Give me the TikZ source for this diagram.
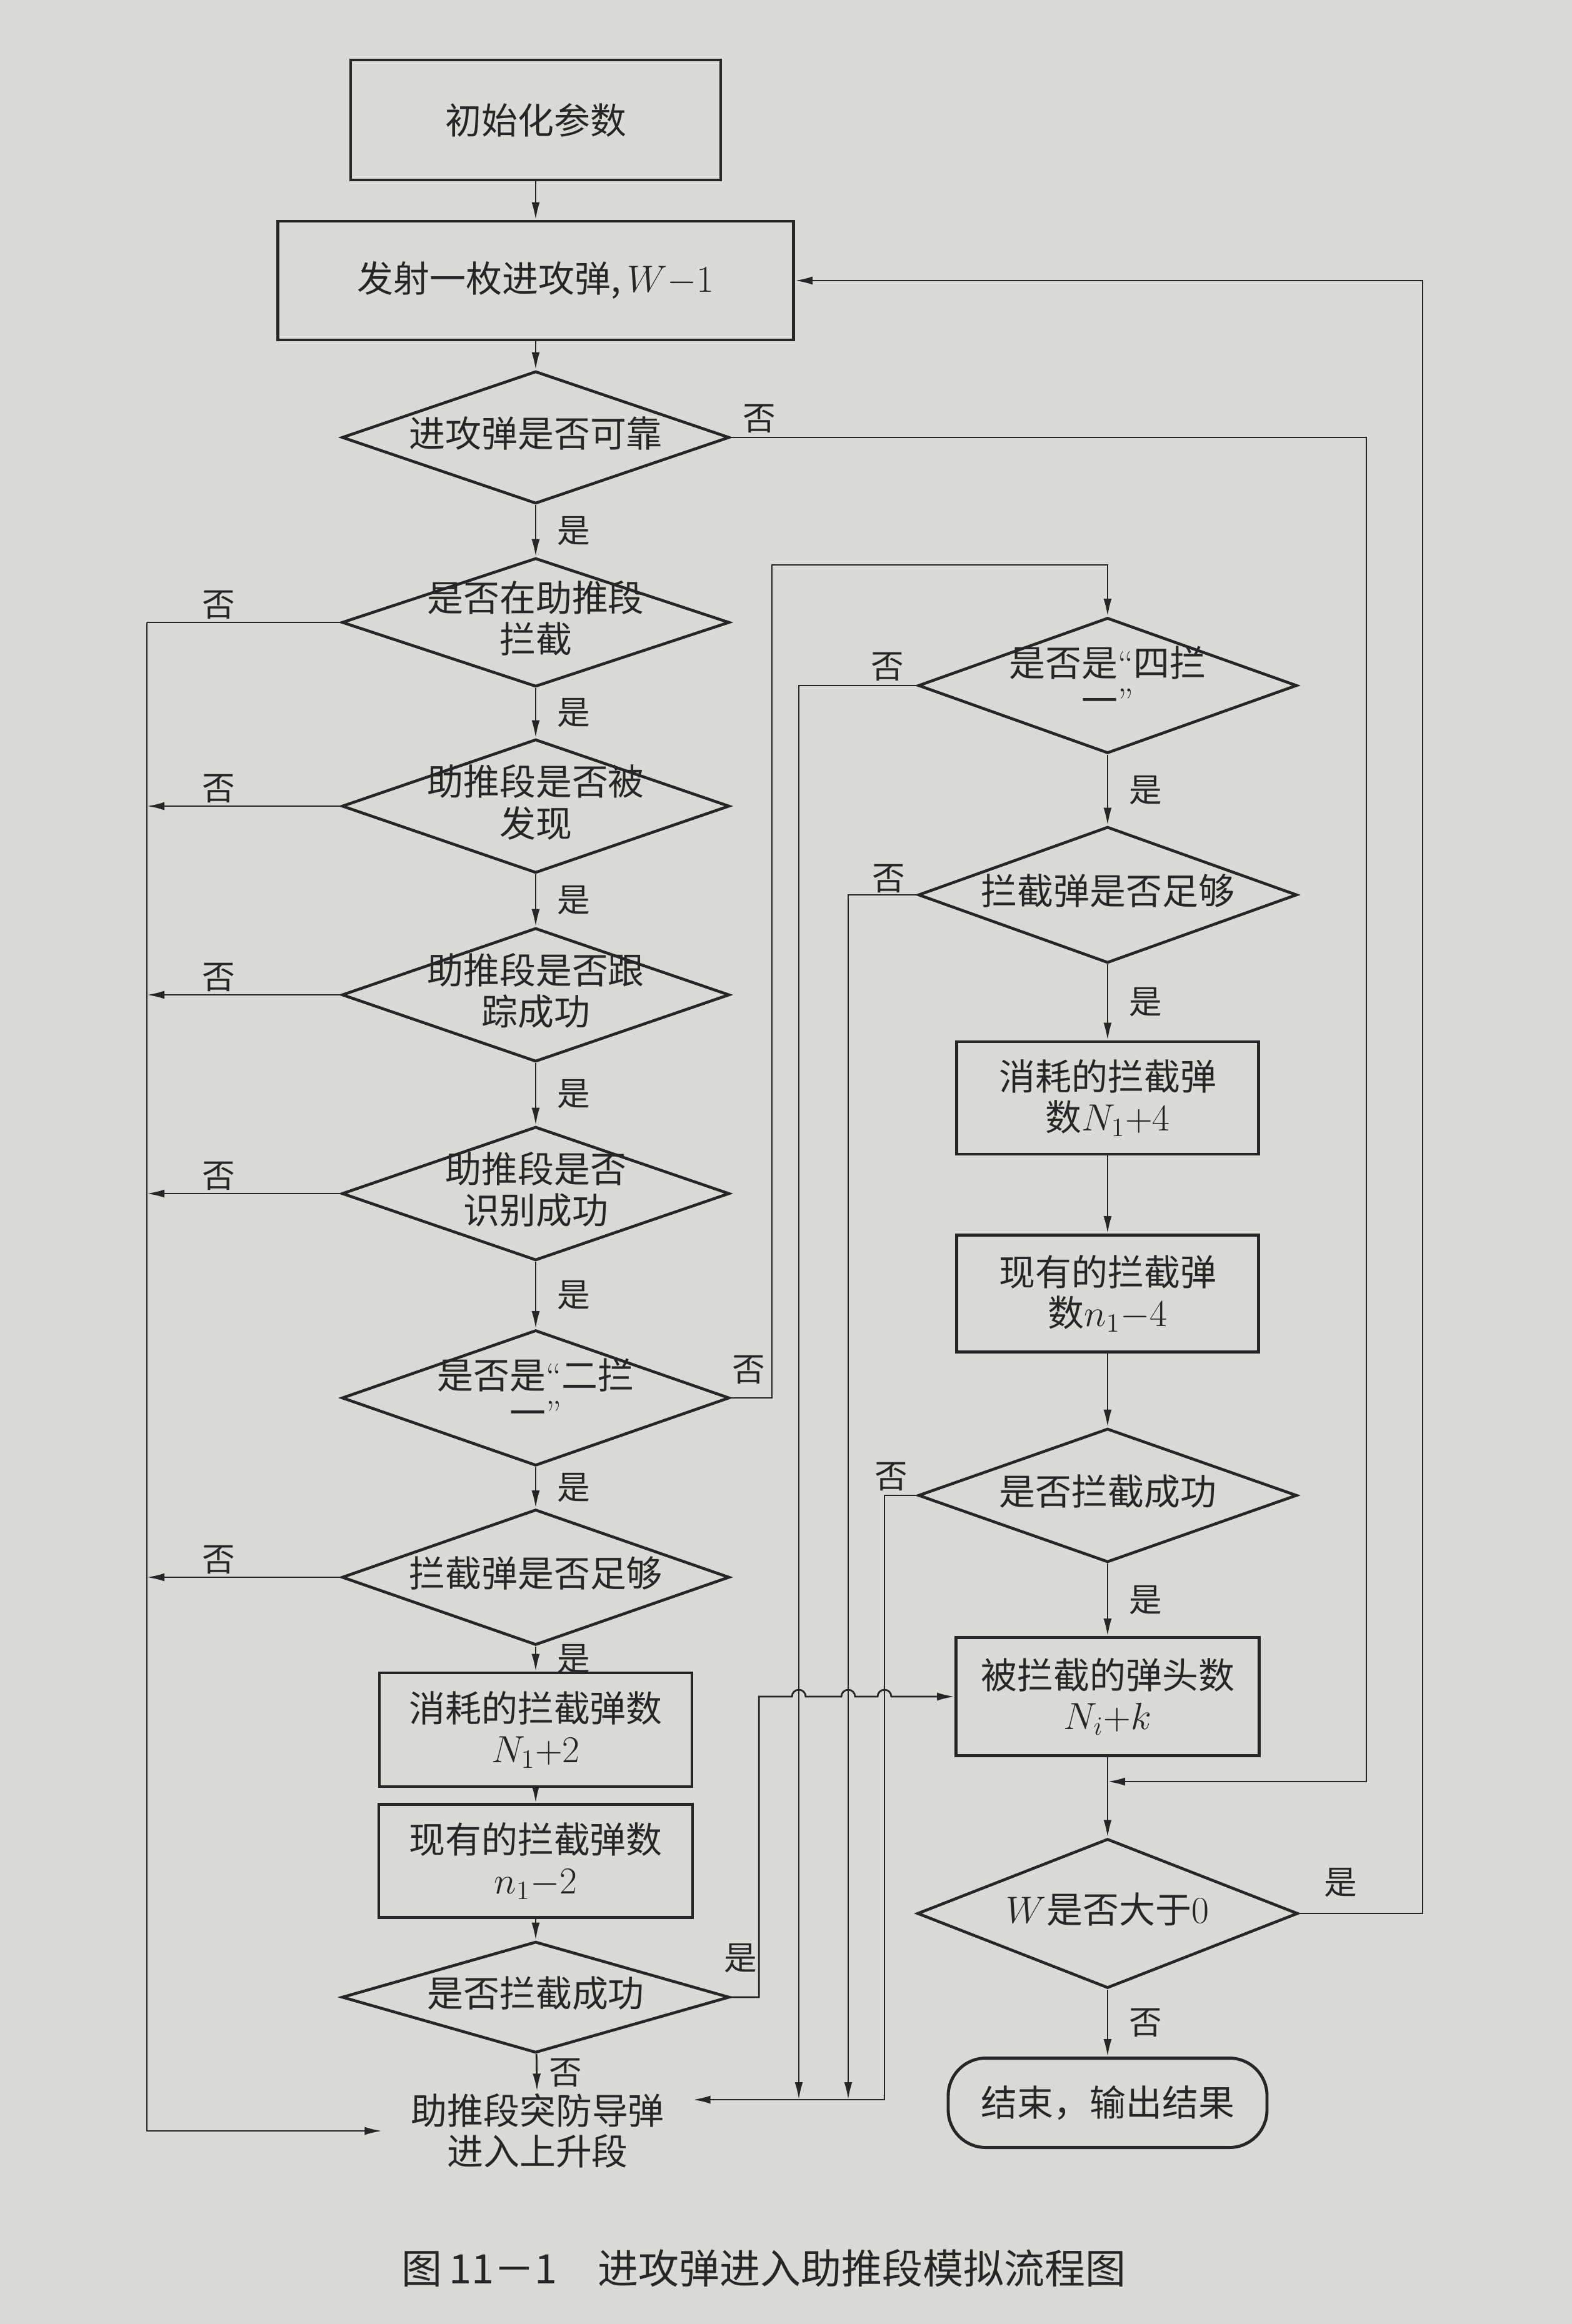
\documentclass[tikz,border=0pt]{standalone}
\usepackage{fontspec}
\newfontfamily\cjk{Noto Sans CJK SC}
\usepackage{xcolor}
\usepackage{tikz}
\usetikzlibrary{calc}
\usetikzlibrary{shapes.geometric}
\usetikzlibrary{arrows.meta}

\definecolor{paper}{RGB}{218,218,215}
\definecolor{ink}{RGB}{38,38,38}
\newcommand{\flowfont}{\cjk\fontsize{16.5}{17}\selectfont}
\newcommand{\boxfont}{\cjk\fontsize{16.5}{18.5}\selectfont}
\newcommand{\labfont}{\cjk\fontsize{15}{15}\selectfont}
\newcommand{\dtext}[1]{\makebox[0pt]{\begin{tabular}{@{}c@{}}#1\end{tabular}}}
\newcommand{\openq}{{\rmfamily “}}
\newcommand{\closeq}{{\rmfamily ”}}

\tikzset{
  procbox/.style={draw=ink, line width=1.3pt, rectangle, align=center, font=\boxfont, text=ink, inner sep=2pt},
  decide/.style={draw=ink, line width=1.3pt, diamond, inner sep=0pt, font=\flowfont, text=ink, minimum width=6.2cm, minimum height=2.14cm},
  stopbox/.style={draw=ink, line width=1.4pt, rounded corners=0.6cm, font=\flowfont, text=ink, minimum width=5.1cm, minimum height=1.43cm},
  flow/.style={draw=ink, line width=0.8pt, -{Latex[length=2.8mm,width=1.3mm]}},
  wire/.style={draw=ink, line width=0.8pt},
  lab/.style={font=\labfont, text=ink, inner sep=1pt},
  ylab/.style={lab, right, xshift=3mm}
}

\begin{document}
\begin{tikzpicture}
\useasboundingbox (0,0) rectangle (25.15,-37.19);
\fill[paper] (0,0) rectangle (25.15,-37.19);

\node[procbox, minimum width=5.92cm, minimum height=1.92cm] (init) at (8.57,-1.92) {初始化参数};
\node[procbox, minimum width=8.25cm, minimum height=1.90cm] (fire) at (8.57,-4.49) {发射一枚进攻弹,$\,W{-}1$};
\node[decide, minimum height=2.12cm] (rel) at (8.57,-7.00) {\dtext{进攻弹是否可靠}};
\node[decide, minimum height=2.06cm] (boost) at (8.57,-9.96) {\dtext{是否在助推段\\拦截}};
\node[decide] (found) at (8.57,-12.90) {\dtext{助推段是否被\\发现}};
\node[decide] (track) at (8.57,-15.92) {\dtext{助推段是否跟\\踪成功}};
\node[decide] (ident) at (8.57,-19.10) {\dtext{助推段是否\\识别成功}};
\node[decide, minimum height=2.17cm] (two) at (8.57,-22.37) {\dtext{是否是\openq 二拦\\一\closeq}};
\node[decide, minimum height=2.17cm] (enoughL) at (8.57,-25.24) {\dtext{拦截弹是否足够}};
\node[procbox, minimum width=5.0cm, minimum height=1.82cm] (costL) at (8.57,-27.68) {消耗的拦截弹数\\$N_1{+}2$};
\node[procbox, minimum width=5.02cm, minimum height=1.81cm] (haveL) at (8.57,-29.78) {现有的拦截弹数\\$n_1{-}2$};
\node[decide, minimum height=1.78cm] (succL) at (8.57,-31.96) {\dtext{是否拦截成功}};
\node[font=\boxfont, text=ink, align=center, inner xsep=0.45cm, inner ysep=1pt] (leave) at (8.60,-34.10) {助推段突防导弹\\进入上升段};

\node[decide, minimum width=6.06cm, minimum height=2.17cm] (four) at (17.72,-10.97) {\dtext{是否是\openq 四拦\\一\closeq}};
\node[decide, minimum width=6.06cm, minimum height=2.18cm] (enoughR) at (17.72,-14.32) {\dtext{拦截弹是否足够}};
\node[procbox, minimum width=4.83cm, minimum height=1.80cm] (costR) at (17.72,-17.57) {消耗的拦截弹\\数$N_1{+}4$};
\node[procbox, minimum width=4.83cm, minimum height=1.87cm] (haveR) at (17.72,-20.70) {现有的拦截弹\\数$n_1{-}4$};
\node[decide, minimum width=6.06cm, minimum height=2.14cm] (succR) at (17.72,-23.93) {\dtext{是否拦截成功}};
\node[procbox, minimum width=4.85cm, minimum height=1.89cm] (hit) at (17.72,-27.15) {被拦截的弹头数\\$N_i{+}k$};
\node[decide, minimum width=6.09cm, minimum height=2.39cm] (wpos) at (17.72,-30.62) {\dtext{$W$是否大于$0$}};
\node[stopbox] (finish) at (17.72,-33.65) {结束，输出结果};

\coordinate (lbus) at (2.35,-9.96);
\coordinate (relx) at (21.86,-28.51);
\coordinate (join) at (17.72,-28.51);
\coordinate (bot) at (14.15,-33.60);
\coordinate (b4) at (12.78,-33.60);
\coordinate (b5) at (13.57,-33.60);

\draw[flow] (init) -- (fire);
\draw[flow] (fire) -- (rel);
\draw[flow] (rel) -- node[ylab] (y1) {是} (boost);
\draw[flow] (boost) -- node[ylab] (y2) {是} (found);
\draw[flow] (found) -- node[ylab] (y3) {是} (track);
\draw[flow] (track) -- node[ylab] (y4) {是} (ident);
\draw[flow] (ident) -- node[ylab] (y5) {是} (two);
\draw[flow] (two) -- node[ylab] (y6) {是} (enoughL);
\draw[flow] (enoughL) -- node[ylab] (y7) {是} (costL);
\draw[flow] (costL) -- (haveL);
\draw[flow] (haveL) -- (succL);
\draw[flow] (succL) -- node[ylab, xshift=-1.5mm] (n0) {否} (leave);

\draw[wire] (boost.west) -- node[lab, above, pos=0.63] (n1) {否} (lbus);
\draw[flow] (lbus) |- (leave.west);
\draw[flow] (found.west) -- node[lab, above, pos=0.63] (n2) {否} (found.west -| lbus);
\draw[flow] (track.west) -- node[lab, above, pos=0.63] (n3) {否} (track.west -| lbus);
\draw[flow] (ident.west) -- node[lab, above, pos=0.63] (n4) {否} (ident.west -| lbus);
\draw[flow] (enoughL.west) -- node[lab, above, pos=0.63] (n5) {否} (enoughL.west -| lbus);

\draw[flow] (rel.east) -| (relx) -- (join);
\node[lab] (n6) at ($(rel.east)+(0.46,0.30)$) {否};
\draw[flow] (two.east) -| (12.35,-9.04) -| (four.north);
\node[lab] (n7) at ($(two.east)+(0.29,0.45)$) {否};
\draw[flow] (succL.east) -- ++(0.45,0) |- (12.67,-27.15) arc[start angle=180, end angle=0, radius=0.11] -- (13.46,-27.15) arc[start angle=180, end angle=0, radius=0.11] -- (14.04,-27.15) arc[start angle=180, end angle=0, radius=0.11] -- (hit.west);
\node[lab] (y8) at ($(succL.east)+(0.16,0.62)$) {是};

\draw[flow] (four) -- node[ylab] (y9) {是} (enoughR);
\draw[flow] (enoughR) -- node[ylab] (y10) {是} (costR);
\draw[flow] (costR) -- (haveR);
\draw[flow] (haveR) -- (succR);
\draw[flow] (succR) -- node[ylab] (y11) {是} (hit);
\draw[flow] (hit) -- (wpos);
\draw[flow] (wpos) -- node[ylab] (n8) {否} (finish);

\draw[flow] (four.west) -| (b4);
\node[lab] (n9) at ($(four.west)+(-0.47,0.30)$) {否};
\draw[flow] (enoughR.west) -| (b5);
\node[lab] (n10) at ($(enoughR.west)+(-0.45,0.26)$) {否};
\draw[flow] (succR.west) -| (bot) -- (bot -| leave.east);
\node[lab] (n11) at ($(succR.west)+(-0.41,0.30)$) {否};

\draw[flow] (wpos.east) -| (22.76,-4.49) -- (fire.east);
\node[lab] (y12) at ($(wpos.east)+(0.66,0.49)$) {是};

\node[font=\cjk\fontsize{18.5}{20}\selectfont, text=ink, anchor=west] (caption) at (6.30,-36.30) {图\,11－1\quad 进攻弹进入助推段模拟流程图};
\end{tikzpicture}
\end{document}
